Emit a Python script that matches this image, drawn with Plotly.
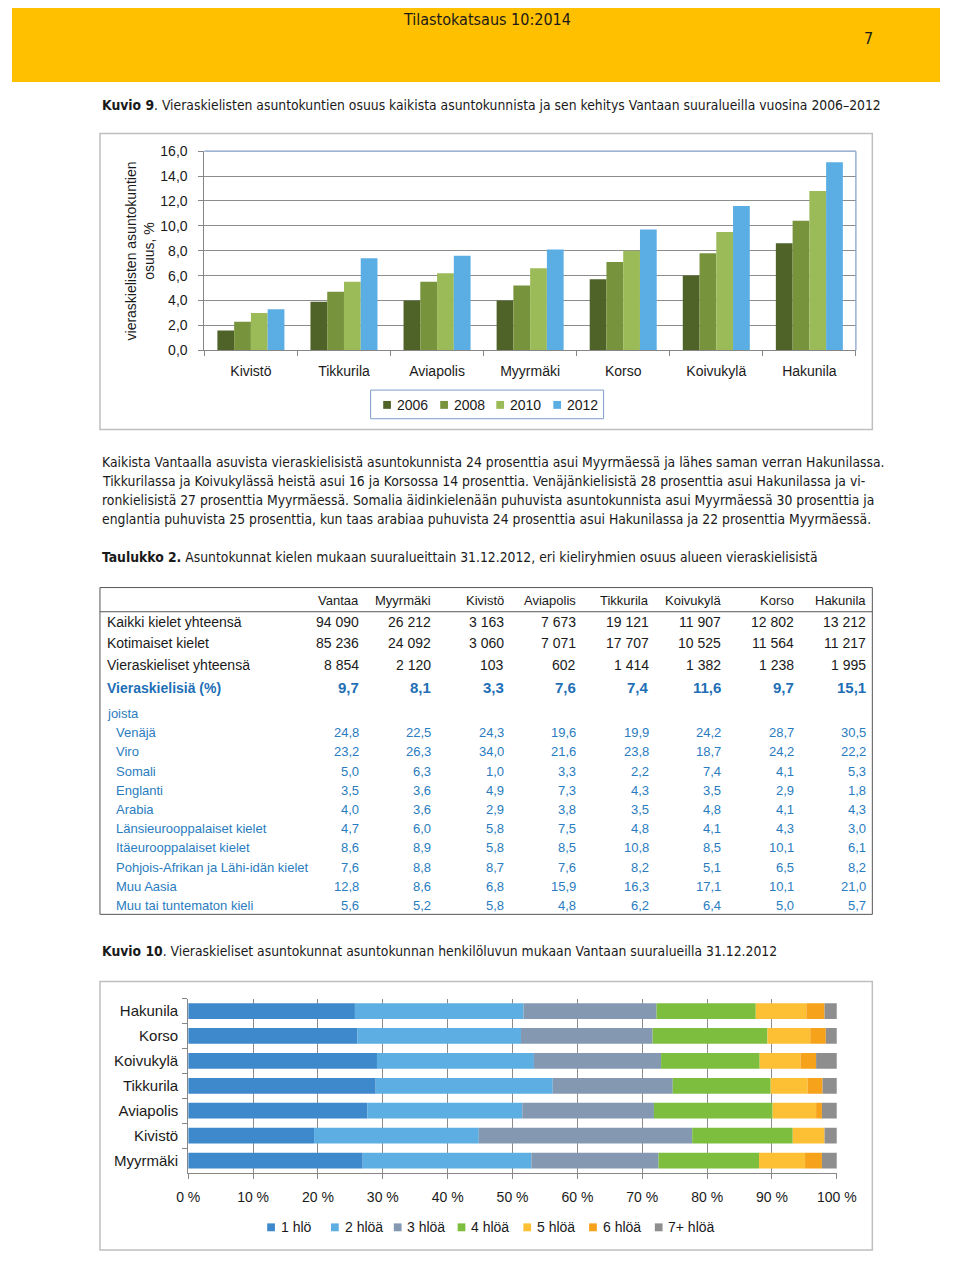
import plotly.graph_objects as go

W, H = 960, 1261


def px(x):
    return x / W


def py(y):
    return 1 - y / H


# ---------------- data ----------------
areas1 = ["Kivistö", "Tikkurila", "Aviapolis", "Myyrmäki", "Korso", "Koivukylä", "Hakunila"]
years = ["2006", "2008", "2010", "2012"]
v2006 = [1.6, 3.9, 4.0, 4.0, 5.7, 6.0, 8.6]
v2008 = [2.3, 4.7, 5.5, 5.2, 7.1, 7.8, 10.4]
v2010 = [3.0, 5.5, 6.2, 6.6, 8.0, 9.5, 12.8]
v2012 = [3.3, 7.4, 7.6, 8.1, 9.7, 11.6, 15.1]
y_ticks1 = [0, 2, 4, 6, 8, 10, 12, 14, 16]

areas2 = ["Hakunila", "Korso", "Koivukylä", "Tikkurila", "Aviapolis", "Kivistö", "Myyrmäki"]
hh_labels = ["1 hlö", "2 hlöä", "3 hlöä", "4 hlöä", "5 hlöä", "6 hlöä", "7+ hlöä"]
hh1 = [25.7, 26.1, 29.1, 28.9, 27.6, 19.4, 26.9]
hh2 = [26.0, 25.2, 24.2, 27.3, 23.9, 25.4, 26.0]
hh3 = [20.5, 20.3, 19.6, 18.5, 20.3, 32.9, 19.6]
hh4 = [15.3, 17.7, 15.2, 15.1, 18.3, 15.5, 15.5]
hh5 = [7.8, 6.6, 6.3, 5.7, 6.7, 4.9, 7.1]
hh6 = [2.8, 2.4, 2.4, 2.3, 0.9, 0.0, 2.6]
hh7 = [1.9, 1.7, 3.2, 2.2, 2.3, 1.9, 2.3]
x_ticks2 = [0, 10, 20, 30, 40, 50, 60, 70, 80, 90, 100]
x_ticktext2 = ["0 %", "10 %", "20 %", "30 %", "40 %", "50 %", "60 %", "70 %", "80 %", "90 %", "100 %"]

tbl_cols = ["Vantaa", "Myyrmäki", "Kivistö", "Aviapolis", "Tikkurila", "Koivukylä", "Korso", "Hakunila"]
tbl_total = [94090, 26212, 3163, 7673, 19121, 11907, 12802, 13212]
tbl_domestic = [85236, 24092, 3060, 7071, 17707, 10525, 11564, 11217]
tbl_foreign = [8854, 2120, 103, 602, 1414, 1382, 1238, 1995]
tbl_pct = [9.7, 8.1, 3.3, 7.6, 7.4, 11.6, 9.7, 15.1]
lang_names = ["Venäjä", "Viro", "Somali", "Englanti", "Arabia", "Länsieurooppalaiset kielet",
              "Itäeurooppalaiset kielet", "Pohjois-Afrikan ja Lähi-idän kielet", "Muu Aasia",
              "Muu tai tuntematon kieli"]
lang_venaja = [24.8, 22.5, 24.3, 19.6, 19.9, 24.2, 28.7, 30.5]
lang_viro = [23.2, 26.3, 34.0, 21.6, 23.8, 18.7, 24.2, 22.2]
lang_somali = [5.0, 6.3, 1.0, 3.3, 2.2, 7.4, 4.1, 5.3]
lang_englanti = [3.5, 3.6, 4.9, 7.3, 4.3, 3.5, 2.9, 1.8]
lang_arabia = [4.0, 3.6, 2.9, 3.8, 3.5, 4.8, 4.1, 4.3]
lang_lansi = [4.7, 6.0, 5.8, 7.5, 4.8, 4.1, 4.3, 3.0]
lang_ita = [8.6, 8.9, 5.8, 8.5, 10.8, 8.5, 10.1, 6.1]
lang_pohjois = [7.6, 8.8, 8.7, 7.6, 8.2, 5.1, 6.5, 8.2]
lang_aasia = [12.8, 8.6, 6.8, 15.9, 16.3, 17.1, 10.1, 21.0]
lang_muu = [5.6, 5.2, 5.8, 4.8, 6.2, 6.4, 5.0, 5.7]
lang_rows = [lang_venaja, lang_viro, lang_somali, lang_englanti, lang_arabia, lang_lansi,
             lang_ita, lang_pohjois, lang_aasia, lang_muu]

para_lines = [
    "Kaikista Vantaalla asuvista vieraskielisistä asuntokunnista 24 prosenttia asui Myyrmäessä ja lähes saman verran Hakunilassa.",
    "Tikkurilassa ja Koivukylässä heistä asui 16 ja Korsossa 14 prosenttia. Venäjänkielisistä 28 prosenttia asui Hakunilassa ja vi-",
    "ronkielisistä 27 prosenttia Myyrmäessä. Somalia äidinkielenään puhuvista asuntokunnista asui Myyrmäessä 30 prosenttia ja",
    "englantia puhuvista 25 prosenttia, kun taas arabiaa puhuvista 24 prosenttia asui Hakunilassa ja 22 prosenttia Myyrmäessä.",
]

# ---------------- styles ----------------
SANS = "Liberation Sans, Arial, sans-serif"
NARROW = "Liberation Sans Narrow, Arial Narrow, DejaVu Sans Condensed, Liberation Sans, sans-serif"
TXT = "#1a1a1a"
BLUE_B = "#1E6FB6"
BLUE = "#2A7CC0"
GRID = "#8C8C8C"
AXIS = "#868686"
colors1 = ["#4F6228", "#77933C", "#9BBB59", "#5BAEE3"]
colors2 = ["#3D89CB", "#5DAEE3", "#8499B1", "#7DBE3F", "#FDBF33", "#F7A21B", "#8E8E8E"]

fig = go.Figure()

# chart 1: grouped bars (overlay mode with explicit offsets)
series1 = [v2006, v2008, v2010, v2012]
bw = 0.18
for i, (yr, vals, c) in enumerate(zip(years, series1, colors1)):
    fig.add_trace(go.Bar(x=areas1, y=vals, name=yr, marker=dict(color=c, line=dict(width=0)),
                         width=bw, offset=-2 * bw + i * bw, xaxis="x", yaxis="y",
                         showlegend=False))

# chart 2: stacked horizontal bars (base = running total)
series2 = [hh1, hh2, hh3, hh4, hh5, hh6, hh7]
base = [0.0] * len(areas2)
for lab, vals, c in zip(hh_labels, series2, colors2):
    fig.add_trace(go.Bar(y=areas2, x=vals, base=list(base), orientation="h", name=lab,
                         marker=dict(color=c, line=dict(width=0)), width=0.63,
                         xaxis="x2", yaxis="y2", showlegend=False))
    base = [b + v for b, v in zip(base, vals)]

shapes = []
ann = []


def text(x, y, s, size=14, color=TXT, xanchor="left", family=SANS, yanchor="middle", angle=0):
    ann.append(dict(x=px(x), y=py(y), xref="paper", yref="paper", text=s, showarrow=False,
                    xanchor=xanchor, yanchor=yanchor, textangle=angle,
                    font=dict(size=size, color=color, family=family)))


def rect(x0, y0, x1, y1, line=None, fill=None, width=1):
    shapes.append(dict(type="rect", xref="paper", yref="paper", x0=px(x0), x1=px(x1),
                       y0=py(y0), y1=py(y1), line=dict(color=line or "rgba(0,0,0,0)", width=width),
                       fillcolor=fill or "rgba(0,0,0,0)", layer="below"))


def hline(x0, x1, y, color, width=1):
    shapes.append(dict(type="line", xref="paper", yref="paper", x0=px(x0), x1=px(x1),
                       y0=py(y), y1=py(y), line=dict(color=color, width=width)))


# header
rect(0, 0, 960, 75, fill="#FFC000")
text(491, 12, "Tilastokatsaus 10:2014", size=16, family=NARROW, xanchor="center")
text(886, 31, "7", size=16, family=NARROW, xanchor="center")

# caption 1
text(91, 98, "<b>Kuvio 9</b>. Vieraskielisten asuntokuntien osuus kaikista asuntokunnista ja sen kehitys Vantaan suuralueilla vuosina 2006–2012",
     size=13.8, family=NARROW)

# chart 1 frame
rect(91, 127, 890, 427, line="#BFBFBF", width=1.5)
shapes.append(dict(type="line", xref="x domain", yref="y domain", x0=0, x1=1, y0=1, y1=1,
                   line=dict(color="#7F9CC9", width=1.2)))
shapes.append(dict(type="line", xref="x domain", yref="y domain", x0=1, x1=1, y0=0, y1=1,
                   line=dict(color="#7F9CC9", width=1.2)))
text(132, 246, "vieraskielisten asuntokuntien<br>osuus, %", size=14, angle=-90, xanchor="center")
# legend 1
rect(371, 387, 612, 416, line="#7F9CC9", width=1)
leg1_x = [384, 443, 501, 560]
for x0, yr, c in zip(leg1_x, years, colors1):
    rect(x0, 398, x0 + 8, 406, fill=c)
    text(x0 + 12, 402, yr, size=14)

# paragraph
for i, line in enumerate(para_lines):
    text(91, 460 + 19.2 * i, line, size=13.8, family=NARROW)
text(91, 556, "<b>Taulukko 2.</b> Asuntokunnat kielen mukaan suuralueittain 31.12.2012, eri kieliryhmien osuus alueen vieraskielisistä",
     size=13.8, family=NARROW)

# table
rect(91, 587, 890, 918, line="#555555", width=1)
hline(91, 890, 611.5, "#555555", 1)
col_right = [360, 435, 510, 585, 660, 735, 810, 885]


def fmt_int(v):
    return f"{v:,}".replace(",", " ")


def fmt_dec(v):
    return f"{v:.1f}".replace(".", ",")


for xr, c in zip(col_right, tbl_cols):
    text(xr + 1, 600.5, c, size=13, xanchor="right")
main_rows = [("Kaikki kielet yhteensä", tbl_total, 621.5),
             ("Kotimaiset kielet", tbl_domestic, 643.3),
             ("Vieraskieliset yhteensä", tbl_foreign, 665)]
for lab, vals, y in main_rows:
    text(96, y, lab, size=14)
    for xr, v in zip(col_right, vals):
        text(xr + 1, y, fmt_int(v), size=14, xanchor="right")
text(96, 689, "<b>Vieraskielisiä (%)</b>", size=14, color=BLUE_B)
for xr, v in zip(col_right, tbl_pct):
    text(xr + 1, 688.5, "<b>" + fmt_dec(v) + "</b>", size=15, color=BLUE_B, xanchor="right")
text(96, 714.3, "joista", size=13, color=BLUE)
for i, (lab, vals) in enumerate(zip(lang_names, lang_rows)):
    y = 734 + 19.45 * i
    text(106, y, lab, size=13, color=BLUE)
    for xr, v in zip(col_right, vals):
        text(xr + 1, y, fmt_dec(v), size=13, color=BLUE, xanchor="right")

# caption 2
text(91, 955.5, "<b>Kuvio 10</b>. Vieraskieliset asuntokunnat asuntokunnan henkilöluvun mukaan Vantaan suuralueilla 31.12.2012",
     size=13.8, family=NARROW)

# chart 2 frame
rect(91, 986, 890, 1258, line="#BFBFBF", width=1.5)
leg2_x = [264, 330, 395, 461, 529, 597, 665]
for x0, lab, c in zip(leg2_x, hh_labels, colors2):
    rect(x0, 1231, x0 + 8, 1239, fill=c)
    text(x0 + 12, 1235, lab, size=14)

fig.update_layout(
    width=W, height=H, margin=dict(l=0, r=0, t=0, b=0),
    paper_bgcolor="white", plot_bgcolor="white",
    barmode="overlay", separators=", ",
    showlegend=False,
    font=dict(family=SANS, size=14, color=TXT),
    shapes=shapes, annotations=ann,
    xaxis=dict(domain=[px(199), px(873)], type="category", showgrid=False,
               showline=True, linecolor=AXIS, linewidth=1,
               ticks="outside", tickson="boundaries", ticklen=5, tickcolor=AXIS,
               ticklabelstandoff=8,
               tickfont=dict(size=14, family=SANS, color=TXT), anchor="y", fixedrange=True),
    yaxis=dict(domain=[py(346.7), py(145)], range=[0, 16], tickvals=y_ticks1, tickformat=".1f",
               showgrid=True, gridcolor=GRID, gridwidth=1, zeroline=False,
               showline=True, linecolor=AXIS, linewidth=1,
               ticks="outside", ticklen=5, tickcolor=AXIS, ticklabelstandoff=8,
               tickfont=dict(size=14, family=SANS, color=TXT), anchor="x", fixedrange=True),
    xaxis2=dict(domain=[px(182.3), px(853.3)], range=[0, 100], tickvals=x_ticks2,
                ticktext=x_ticktext2,
                showgrid=True, gridcolor=GRID, gridwidth=1, zeroline=False,
                showline=True, linecolor=AXIS, linewidth=1,
                ticks="outside", ticklen=5, tickcolor=AXIS, ticklabelstandoff=6,
                tickfont=dict(size=14, family=SANS, color=TXT), anchor="y2", fixedrange=True),
    yaxis2=dict(domain=[py(1180), py(1003.3)], type="category", autorange="reversed",
                showgrid=False, showline=True, linecolor=AXIS, linewidth=1,
                ticks="outside", tickson="boundaries", ticklen=5, tickcolor=AXIS,
                ticklabelstandoff=6,
                tickfont=dict(size=15, family=SANS, color=TXT), anchor="x2", fixedrange=True),
)

post = (
    "document.documentElement.style.margin='0';"
    "document.documentElement.style.padding='0';"
    "document.documentElement.style.overflow='hidden';"
    "document.documentElement.style.background='#ffffff';"
    "document.body.style.margin='0';"
    "document.body.style.padding='0';"
    "document.body.style.overflow='hidden';"
    "document.body.style.background='#ffffff';"
    "var gd=document.getElementById('{plot_id}');"
    "gd.style.position='absolute';gd.style.left='0px';gd.style.top='0px';"
)
fig.write_html("out.html", config={"displayModeBar": False}, post_script=post)
